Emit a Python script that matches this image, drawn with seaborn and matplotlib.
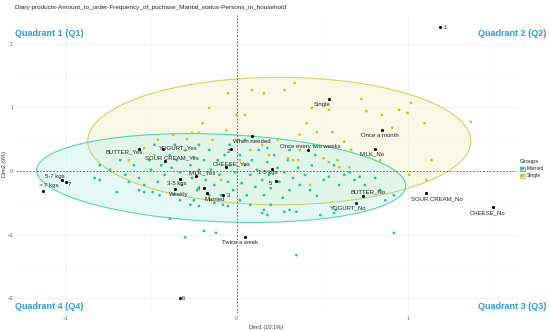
import matplotlib
matplotlib.use("Agg")
import matplotlib.pyplot as plt
from matplotlib.patches import Ellipse, Patch
from matplotlib.lines import Line2D
import seaborn as sns
import pandas as pd

sns.set_theme(style="whitegrid")
plt.rcParams['font.family'] = ['Liberation Sans Narrow', 'Liberation Sans', 'DejaVu Sans']

title = "Diary products-Amount_to_order-Frequency_of_puchase_Marital_status-Persons_in_household"
xlabel = "Dim1 (10.1%)"
ylabel = "Dim2 (9%)"
groups = ["Married", "Single"]
group_colors = ["#22c4a0", "#c4c43a"]
group_fills = ["#d2f5ec", "#f4f4d6"]

# Individuals (Married)
married_x = [-0.39, -0.30, -0.19, -0.12, -0.22, -0.13, -0.08, -0.05, 0.15, 0.18, 0.92, 0.35,
             -0.83, -0.80, -0.70, -0.57, -0.54, -0.49,
             -0.80, -0.74, -0.68, -0.65, -0.60, -0.57, -0.51, -0.50, -0.46, -0.44, -0.42, -0.39,
             -0.38, -0.35, -0.33, -0.32, -0.30, -0.27, -0.26, -0.25, -0.23, -0.22, -0.19, -0.18,
             -0.16, -0.15, -0.13, -0.11, -0.10, -0.09, -0.07, -0.05, -0.04, -0.02, -0.01, 0.02,
             0.03, 0.05, 0.06, 0.08, 0.09, 0.11, 0.12, 0.13, 0.15, 0.16, 0.18, 0.19, 0.20, 0.22,
             0.24, 0.25, 0.27, 0.28, 0.30, 0.31, 0.33, 0.35, 0.36, 0.37, 0.40, 0.43, 0.44, 0.47,
             0.49, 0.51, 0.54, 0.58, 0.60, 0.63, 0.69, 0.72, 0.75, 0.81, 0.84, 0.87, 0.92, 0.31,
             0.28, 0.57, 0.08, 0.02, -0.33, -0.27, -0.45, -0.54, -0.63, -0.36, -0.22, -0.04,
             -0.48, 0.05, 0.18, 0.31, 0.46, 0.57, 0.66, -0.16, -0.25, 0.16, 0.20]
married_y = [-0.75, -1.04, -0.94, -0.97, -0.55, -0.50, -0.53, -0.55, -0.66, -0.69, -0.97, -1.32,
             -0.11, -0.14, -0.33, -0.30, -0.33, -0.33,
             0.09, 0.02, 0.17, -0.06, 0.09, -0.11, 0.17, 0.02, -0.17, 0.09, -0.06, 0.25,
             0.05, 0.17, -0.02, -0.22, 0.33, 0.09, -0.11, 0.22, -0.30, 0.02, 0.17, -0.14,
             0.33, 0.02, -0.22, 0.17, -0.06, -0.38, 0.25, -0.17, 0.09, -0.30, -0.02, 0.25,
             -0.19, 0.09, -0.38, -0.06, 0.17, -0.25, 0.02, 0.33, -0.14, -0.38, 0.14, -0.06, -0.27, 0.25,
             0.05, -0.17, -0.42, -0.02, 0.17, -0.30, -0.11, -0.64, 0.05, -0.22, -0.06, -0.30, 0.09, -0.39,
             -0.69, -0.14, -0.09, -0.61, -0.22, -0.06, -0.14, -0.09, -0.22, -0.11, -0.30, -0.46, -0.38, -0.61,
             -0.64, -0.66, -0.53, -0.46, -0.46, -0.53, -0.38, -0.22, -0.17, 0.41, 0.41, 0.41,
             0.41, 0.49, 0.36, 0.33, 0.25, 0.09, -0.02, -0.38, -0.46, -0.61, -0.53]

# Individuals (Single)
single_x = [-0.05, 0.09, 0.16, -0.16, -0.20, 0.00, 0.05, -0.37, -0.26, -0.22, -0.14, -0.06, -0.46,
            -0.29, 0.34, 0.28, 0.73, 1.02, 0.54, 0.44, 0.76, 0.85, 0.95, 1.00, 1.10, 1.37, 0.41,
            0.47, 0.56, 0.63, 0.91, 1.14, 0.24, 0.37, 0.30, 0.33, 0.36, 0.51, 0.54, 0.59, 0.60,
            0.66, 1.01, 1.11, -0.54, -0.48, -0.30, 0.08, 0.15, 0.19, 0.02, -0.09, 0.43, -0.63,
            0.84, 0.37, 0.67]
single_y = [1.22, 1.27, 1.22, 0.99, 0.75, 0.88, 0.88, 0.57, 0.60, 0.60, 0.49, 0.64, 0.49,
            0.50, 1.38, 1.27, 1.13, 1.07, 0.96, 0.99, 0.94, 0.88, 0.96, 0.91, 0.75, 0.77, 0.75,
            0.61, 0.61, 0.46, 0.68, 0.17, 0.49, 0.33, 0.20, 0.17, 0.17, 0.20, 0.14, 0.17, 0.06,
            0.06, -0.06, -0.14, 0.36, 0.25, 0.33, 0.33, 0.41, 0.25, 0.17, -0.14, -0.22, 0.17,
            0.17, 0.57, 0.33]

# Variable categories
cat_labels = ["1", "Single", "When needed", "2", "BUTTER_Yes", "YOGURT_Yes", "SOUR CREAM_Yes",
              "CHEESE_Yes", "MILK_Yes", "1-5 kgs", "5", "3-5 kgs", "Weekly", "4", "Married", "3",
              "Twice a week", "6", "5-7 kgs", "7", "> 7 kgs", "Once every two weeks", "Once a month",
              "MILK_No", "BUTTER_No", "SOUR CREAM_No", "YOGURT_No", "CHEESE_No"]
cat_x = [1.19, 0.54, 0.09, -0.03, -0.57, -0.43, -0.42, -0.06, -0.24, 0.21, 0.23, -0.33, -0.36,
         -0.19, -0.17, -0.08, 0.05, -0.33, -1.02, -1.00, -1.13, 0.42, 0.85, 0.81, 0.74, 1.11,
         0.70, 1.50]
cat_y = [2.26, 1.13, 0.55, 0.35, 0.35, 0.35, 0.16, 0.06, -0.08, 0.03, -0.16, -0.13, -0.28,
         -0.27, -0.35, -0.38, -1.04, -2.00, -0.14, -0.17, -0.31, 0.33, 0.64, 0.35, -0.39, -0.35,
         -0.50, -0.56]
# label anchor positions (repelled text)
lab_x = [1.22, 0.50, 0.09, -0.05, -0.66, -0.34, -0.38, -0.03, -0.20, 0.18, 0.20, -0.35, -0.34,
         -0.22, -0.13, -0.05, 0.02, -0.31, -1.06, -0.98, -1.10, 0.43, 0.84, 0.79, 0.77, 1.17,
         0.65, 1.47]
lab_y = [2.26, 1.05, 0.47, 0.30, 0.30, 0.36, 0.20, 0.11, -0.03, -0.02, -0.19, -0.20, -0.37,
         -0.27, -0.45, -0.38, -1.12, -2.00, -0.08, -0.21, -0.22, 0.39, 0.55, 0.27, -0.33, -0.43,
         -0.58, -0.66]

# Confidence ellipses: centre x, centre y, width, height, angle
ell_cx = [-0.09, 0.25]
ell_cy = [-0.11, 0.47]
ell_w = [2.18, 2.24]
ell_h = [1.36, 2.00]
ell_ang = [-10.4, -0.3]

fig = plt.figure(figsize=(5.5, 3.31), dpi=100)
ax = fig.add_axes([0.029, 0.054, 0.911, 0.901])

for i in [1, 0]:
    e = Ellipse((ell_cx[i], ell_cy[i]), ell_w[i], ell_h[i], angle=ell_ang[i],
                facecolor=group_fills[i], edgecolor="none", alpha=0.6, zorder=1)
    ax.add_patch(e)
    e2 = Ellipse((ell_cx[i], ell_cy[i]), ell_w[i], ell_h[i], angle=ell_ang[i],
                 facecolor="none", edgecolor=group_colors[i], alpha=0.75, lw=0.8, zorder=1.5)
    ax.add_patch(e2)

ind = pd.DataFrame({
    "x": married_x + single_x,
    "y": married_y + single_y,
    "group": ["Married"] * len(married_x) + ["Single"] * len(single_x),
})
sns.scatterplot(data=ind, x="x", y="y", hue="group", palette=dict(zip(groups, group_colors)),
                s=4, linewidth=0, ax=ax, legend=False, zorder=3)

cats = pd.DataFrame({"x": cat_x, "y": cat_y})
sns.scatterplot(data=cats, x="x", y="y", color="black", s=5, linewidth=0, ax=ax, legend=False, zorder=4)
for lx, ly, t in zip(lab_x, lab_y, cat_labels):
    ax.text(lx, ly, t, fontsize=4.3, color="#222222", ha="center", va="center", zorder=5)

ax.axhline(0, color="#555555", lw=0.6, ls=(0, (2, 2)), zorder=2)
ax.axvline(0, color="#555555", lw=0.6, ls=(0, (2, 2)), zorder=2)

ax.set_xlim(-1.29, 1.64)
ax.set_ylim(-2.23, 2.45)
ax.set_xticks([-1, 0, 1])
ax.set_yticks([-2, -1, 0, 1, 2])
ax.set_xticks([-0.5, 0.5, 1.5], minor=True)
ax.set_yticks([-1.5, -0.5, 0.5, 1.5], minor=True)
ax.grid(True, which="major", color="#ebebeb", lw=0.5)
ax.grid(True, which="minor", color="#f4f4f4", lw=0.4)
ax.set_facecolor("white")
for s in ax.spines.values():
    s.set_visible(False)
ax.tick_params(axis="both", labelsize=3.5, colors="#555555", length=1.2, width=0.3, pad=1)
ax.set_xlabel(xlabel, fontsize=4, color="#333333")
ax.set_ylabel(ylabel, fontsize=4, color="#333333")
ax.xaxis.set_label_coords(0.5, -0.04)
ax.yaxis.set_label_coords(-0.018, 0.5)

fig.text(0.027, 0.978, title, fontsize=4.6, color="#222222", ha="left", va="center")

qc = "#2a9fd0"
fig.text(0.027, 0.900, "Quadrant 1 (Q1)", fontsize=6.5, color=qc, fontweight="bold", ha="left", va="center")
fig.text(0.993, 0.900, "Quadrant 2 (Q2)", fontsize=6.5, color=qc, fontweight="bold", ha="right", va="center")
fig.text(0.993, 0.073, "Quadrant 3 (Q3)", fontsize=6.5, color=qc, fontweight="bold", ha="right", va="center")
fig.text(0.027, 0.073, "Quadrant 4 (Q4)", fontsize=6.5, color=qc, fontweight="bold", ha="left", va="center")

handles = []
for c, f in zip(group_colors, group_fills):
    handles.append((Patch(facecolor=f, edgecolor=c, lw=0.6),
                    Line2D([], [], marker="o", color=c, ls="", markersize=1.6)))
leg = fig.legend(handles, groups, title="Groups", loc="center left", bbox_to_anchor=(0.942, 0.49),
                 fontsize=3.6, title_fontsize=4.2, frameon=False, handlelength=0.9, handleheight=0.9,
                 handletextpad=0.5, labelspacing=0.4, borderaxespad=0)
leg._legend_box.align = "left"

fig.savefig("out.png", dpi=100)
